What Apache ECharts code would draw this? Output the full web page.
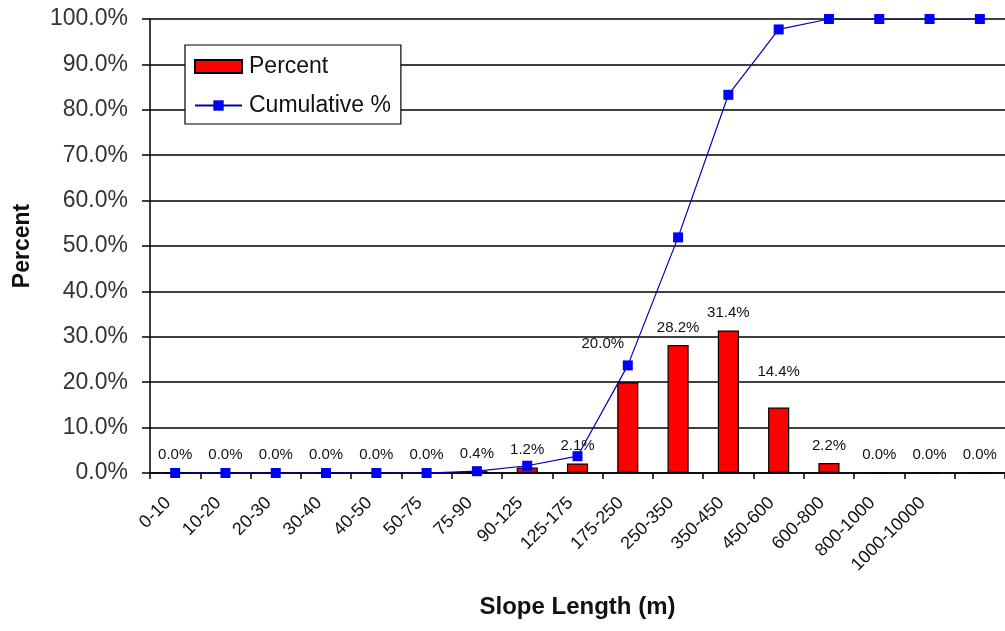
<!DOCTYPE html>
<html>
<head>
<meta charset="utf-8">
<script src="https://cdn.jsdelivr.net/npm/echarts@6/dist/echarts.min.js"></script>
<style>
  html, body { margin: 0; padding: 0; background: #fff; }
  #chart { width: 1005px; height: 631px; }
</style>
</head>
<body>
<div id="chart"></div>
<script>
  // slope length classes (last class has no label in the original)
  var categories = ['0-10', '10-20', '20-30', '30-40', '40-50', '50-75', '75-90', '90-125',
    '125-175', '175-250', '250-350', '350-450', '450-600', '600-800', '800-1000', '1000-10000', ''];
  var percent = [0, 0, 0, 0, 0, 0, 0.4, 1.2, 2.1, 20.0, 28.2, 31.4, 14.4, 2.2, 0, 0, 0];
  var cumulative = [0, 0, 0, 0, 0, 0, 0.4, 1.6, 3.7, 23.7, 51.9, 83.3, 97.7, 100, 100, 100, 100];
  var yTicks = [0, 10, 20, 30, 40, 50, 60, 70, 80, 90, 100];

  var chart = echarts.init(document.getElementById('chart'));

  // a couple of labels were dragged away from their bars in the original
  var labelShift = { 9: [-25, -21], 12: [0, -18] };

  var barData = percent.map(function (v, i) {
    var item = { value: v };
    if (labelShift[i]) item.label = { offset: labelShift[i] };
    return item;
  });

  var option = {
    backgroundColor: '#fff',
    animation: false,
    textStyle: { fontFamily: 'Liberation Sans, Arial, sans-serif' },
    grid: { left: 150, right: 0, top: 19, bottom: 158 },
    legend: {
      orient: 'vertical',
      left: 185,
      top: 45,
      padding: [10, 10, 7, 9],
      itemGap: 16,
      itemWidth: 47,
      itemHeight: 13,
      backgroundColor: '#fff',
      borderColor: '#000',
      borderWidth: 1.2,
      borderRadius: 0,
      textStyle: { fontSize: 23, color: '#111', padding: [0, 0, 0, 2] },
      data: [
        { name: 'Percent', icon: 'rect' },
        { name: 'Cumulative %' }
      ]
    },
    xAxis: {
      type: 'category',
      data: categories,
      boundaryGap: true,
      name: 'Slope Length (m)',
      nameLocation: 'middle',
      nameGap: 122,
      nameTextStyle: { fontSize: 24, fontWeight: 'bold', color: '#111' },
      axisLine: { lineStyle: { color: '#000', width: 1.5 } },
      axisTick: { show: true, length: 6, lineStyle: { color: '#000', width: 1.5 } },
      axisLabel: { interval: 0, rotate: 45, fontSize: 18, color: '#111', margin: 20, padding: [0, 10, 0, 0] },
      splitLine: { show: false }
    },
    yAxis: {
      type: 'value',
      min: 0,
      max: 100,
      interval: 10,
      name: 'Percent',
      nameLocation: 'middle',
      nameGap: 116,
      nameTextStyle: { fontSize: 23, fontWeight: 'bold', color: '#111' },
      axisLine: { show: true, lineStyle: { color: '#000', width: 1.5 } },
      axisTick: { show: true, length: 8, lineStyle: { color: '#000', width: 1.5 } },
      axisLabel: {
        fontSize: 23, color: '#333', margin: 22,
        formatter: function (v) { return yTicks.indexOf(v) >= 0 ? v.toFixed(1) + '%' : ''; }
      },
      splitLine: { show: true, lineStyle: { color: '#000', width: 1.5 } }
    },
    series: [
      {
        name: 'Percent',
        type: 'bar',
        data: barData,
        barWidth: '42%',
        itemStyle: { color: '#ff0000', borderColor: '#000', borderWidth: 1.2 },
        label: {
          show: true,
          position: 'top',
          distance: 10,
          fontSize: 15,
          color: '#111',
          formatter: function (p) { return p.value.toFixed(1) + '%'; }
        },
        z: 2
      },
      {
        name: 'Cumulative %',
        type: 'line',
        data: cumulative,
        symbol: 'rect',
        symbolSize: 10,
        itemStyle: { color: '#0000ff' },
        lineStyle: { color: '#0000b0', width: 1.2 },
        z: 3
      }
    ]
  };

  chart.setOption(option);
</script>
</body>
</html>
